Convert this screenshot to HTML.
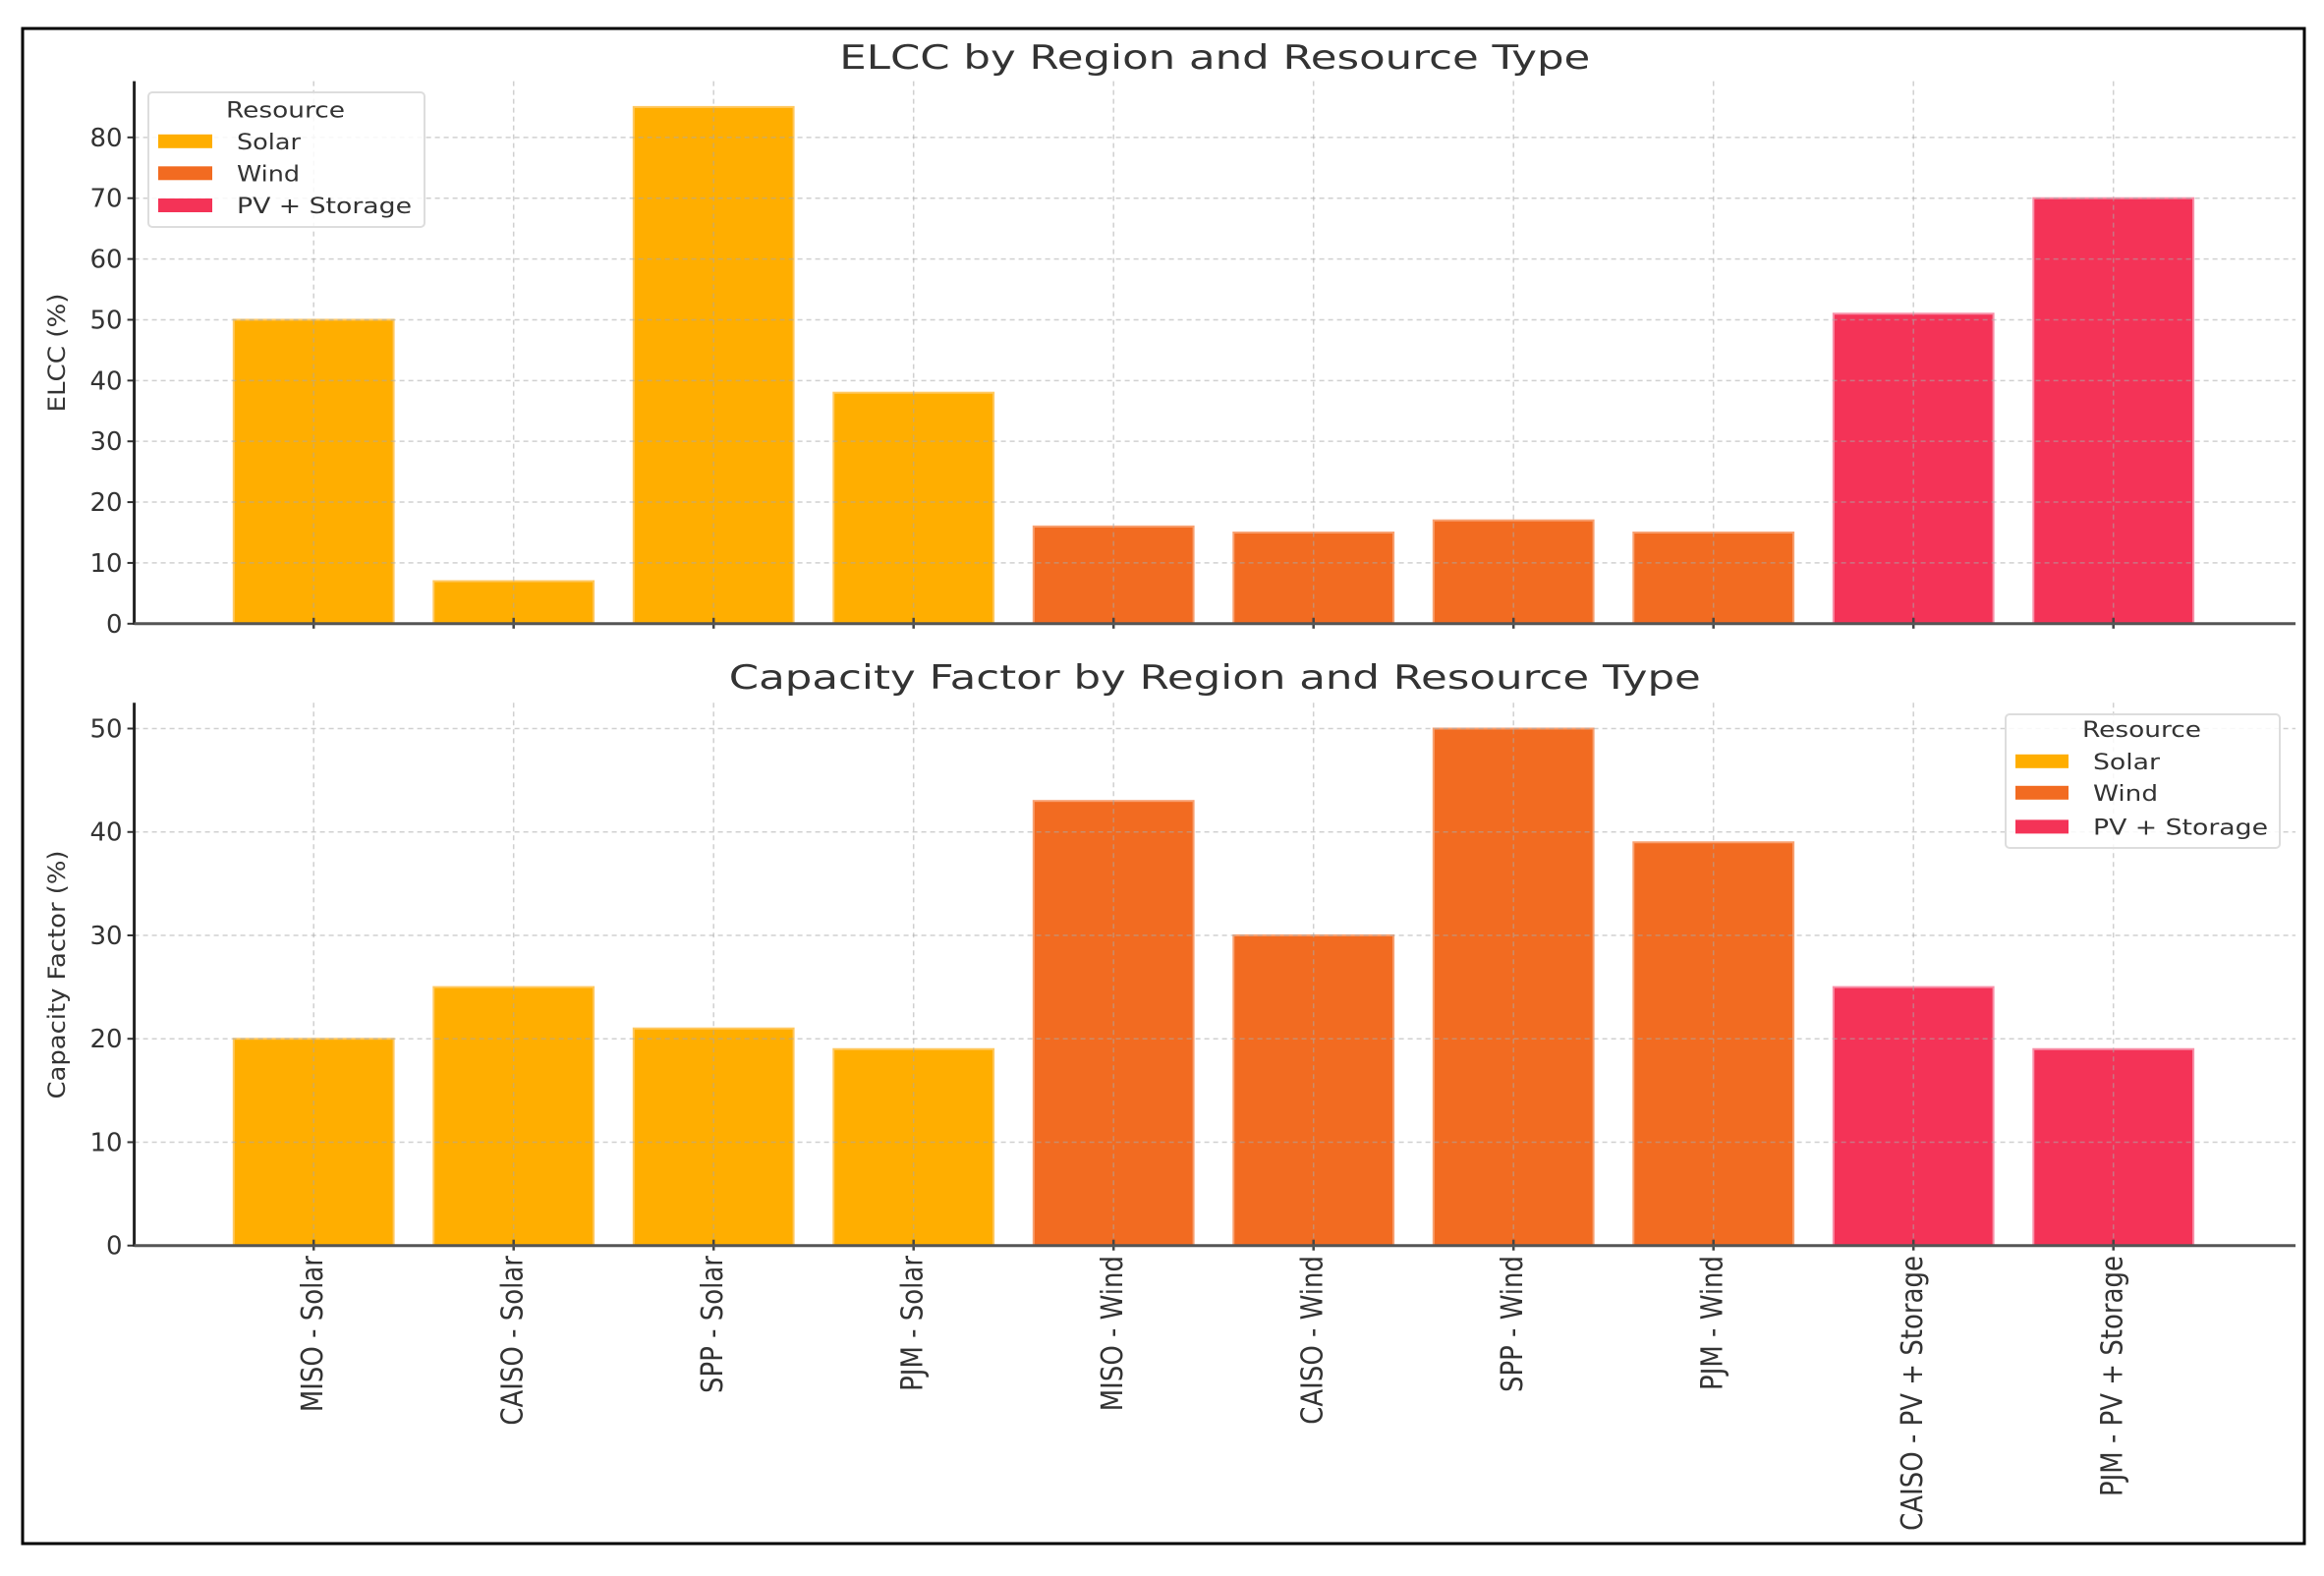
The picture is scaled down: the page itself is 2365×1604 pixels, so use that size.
<!DOCTYPE html>
<html><head><meta charset="utf-8"><style>
html,body{margin:0;padding:0;background:#fff;}
svg{display:block;font-family:"DejaVu Sans","Liberation Sans",sans-serif;}
</style></head><body>
<svg id="chart" width="2365" height="1604" viewBox="0 0 2365 1604" xmlns="http://www.w3.org/2000/svg">
<rect x="23" y="29" width="2322" height="1542" fill="#fff" stroke="#000" stroke-width="3"/>
<g id="g"></g>
</svg>
<script>
const categories = ["MISO - Solar","CAISO - Solar","SPP - Solar","PJM - Solar","MISO - Wind","CAISO - Wind","SPP - Wind","PJM - Wind","CAISO - PV + Storage","PJM - PV + Storage"];
const resourceTypes = ["Solar","Solar","Solar","Solar","Wind","Wind","Wind","Wind","PV + Storage","PV + Storage"];
const elccValues = [50,7,85,38,16,15,17,15,51,70];
const capacityFactorValues = [20,25,21,19,43,30,50,39,25,19];
const elccTicks = [0,10,20,30,40,50,60,70,80];
const cfTicks = [0,10,20,30,40,50];
const legendLabels = ["Solar","Wind","PV + Storage"];
const colors = {"Solar":"#FFAE00","Wind":"#F26B21","PV + Storage":"#F43357"};
const edgeColors = {"Solar":"#FFC860","Wind":"#F8A070","PV + Storage":"#F890A8"};

const NS="http://www.w3.org/2000/svg";
const root=document.getElementById('g');
function mk(tag,attrs,parent){const e=document.createElementNS(NS,tag);for(const k in attrs)e.setAttribute(k,attrs[k]);(parent||root).appendChild(e);return e;}

const xL=136.6, xR=2336, step=203.5, c0=319.2;
function xScale(i){return c0+i*step;}

function drawPanel(p){
  const yScale=v=>p.y0-(v/p.ymax)*(p.y0-p.yTop);
  const grp=mk('g',{});
  
  
  // bars
  p.values.forEach((v,i)=>{
    const t=resourceTypes[i];
    const b=mk('rect',{x:xScale(i)-0.4*step,y:yScale(v),width:0.8*step,height:yScale(0)-yScale(v),fill:colors[t],stroke:edgeColors[t],'stroke-width':2},grp);
    
    
  });
  // grid
  p.ticks.forEach(v=>{
    const l=mk('line',{x1:xL,x2:xR,y1:yScale(v),y2:yScale(v),stroke:'rgba(170,170,170,0.55)','stroke-width':1.5,'stroke-dasharray':'5,4'},grp);
    
    
    const tk=mk('line',{x1:xL-7,x2:xL,y1:yScale(v),y2:yScale(v),stroke:'#333','stroke-width':2},grp);
    
    
    const tl=mk('text',{x:xL-12,y:yScale(v)+9,'text-anchor':'end','font-size':26,fill:'#333'},grp);
    tl.textContent=v;
    
    
  });
  categories.forEach((c,i)=>{
    const l=mk('line',{x1:xScale(i),x2:xScale(i),y1:p.yTop,y2:p.y0,stroke:'rgba(170,170,170,0.55)','stroke-width':1.5,'stroke-dasharray':'5,4'},grp);
    
    
    const tk=mk('line',{x1:xScale(i),x2:xScale(i),y1:p.y0-6,y2:p.y0+5,stroke:'#444','stroke-width':2.5},grp);
    
    
  });
  // spines
  const sl=mk('line',{x1:xL,x2:xL,y1:p.yTop,y2:p.y0+1,stroke:'#222','stroke-width':3},grp);
  
  
  const sb=mk('line',{x1:xL,x2:xR,y1:p.y0,y2:p.y0,stroke:'#555','stroke-width':3},grp);
  
  
  // title
  const ti=mk('text',{x:(xL+xR)/2,y:p.titleY,'text-anchor':'middle','font-size':34,fill:'#333',textLength:p.titleLen,lengthAdjust:'spacingAndGlyphs'},grp);
  ti.textContent=p.title;
  
  
  // y label
  const yl=mk('text',{x:0,y:0,'text-anchor':'middle','font-size':24,fill:'#333',textLength:p.ylabLen,lengthAdjust:'spacingAndGlyphs',transform:`translate(66,${p.ylabY}) rotate(-90)`},grp);
  yl.textContent=p.ylab;
  
  
  // legend
  const L=p.legend;
  const lg=mk('g',{},grp);
  
  
  mk('rect',{x:L.x,y:L.y,width:L.w,height:L.h,fill:'rgba(255,255,255,0.85)',stroke:'#ddd','stroke-width':2,rx:4},lg);
  const lt=mk('text',{x:L.x+L.w/2-1,y:L.titleY+8,'text-anchor':'middle','font-size':22,fill:'#333',textLength:121,lengthAdjust:'spacingAndGlyphs'},lg);
  lt.textContent='Resource';
  
  
  legendLabels.forEach((lab,k)=>{
    const e=mk('g',{},lg);
    
    
    mk('rect',{x:L.px,y:L.rows[k]-7,width:L.pw,height:14,fill:colors[lab]},e);
    const tx=mk('text',{x:L.tx,y:L.rows[k]+8,'font-size':22,fill:'#333',textLength:L.lens[k],lengthAdjust:'spacingAndGlyphs'},e);
    tx.textContent=lab;
  });
}

drawPanel({name:'elcc-panel',values:elccValues,ticks:elccTicks,ymax:89.25,y0:634.8,yTop:82.6,title:'ELCC by Region and Resource Type',titleY:70,titleLen:764,ylab:'ELCC (%)',ylabY:359,ylabLen:121,
  legend:{x:151,y:94,w:281,h:137,titleY:111.6,rows:[143.8,176.3,209],px:161,pw:55,tx:241,lens:[65,64,178]}});
drawPanel({name:'capacity-factor-panel',values:capacityFactorValues,ticks:cfTicks,ymax:52.5,y0:1267.7,yTop:715.2,title:'Capacity Factor by Region and Resource Type',titleY:701,titleLen:989,ylab:'Capacity Factor (%)',ylabY:992,ylabLen:253,
  legend:{x:2041,y:727,w:279,h:136,titleY:742,rows:[774.8,806.8,841.4],px:2051,pw:54,tx:2130,lens:[68,66,178]}});

// rotated x labels
categories.forEach((c,i)=>{
  const t=mk('text',{x:0,y:0,'text-anchor':'end','font-size':26,fill:'#333',transform:`translate(${xScale(i)+9},1278) rotate(-90) scale(1,1.15)`});
  t.textContent=c;
  
  
});
</script>
</body></html>
